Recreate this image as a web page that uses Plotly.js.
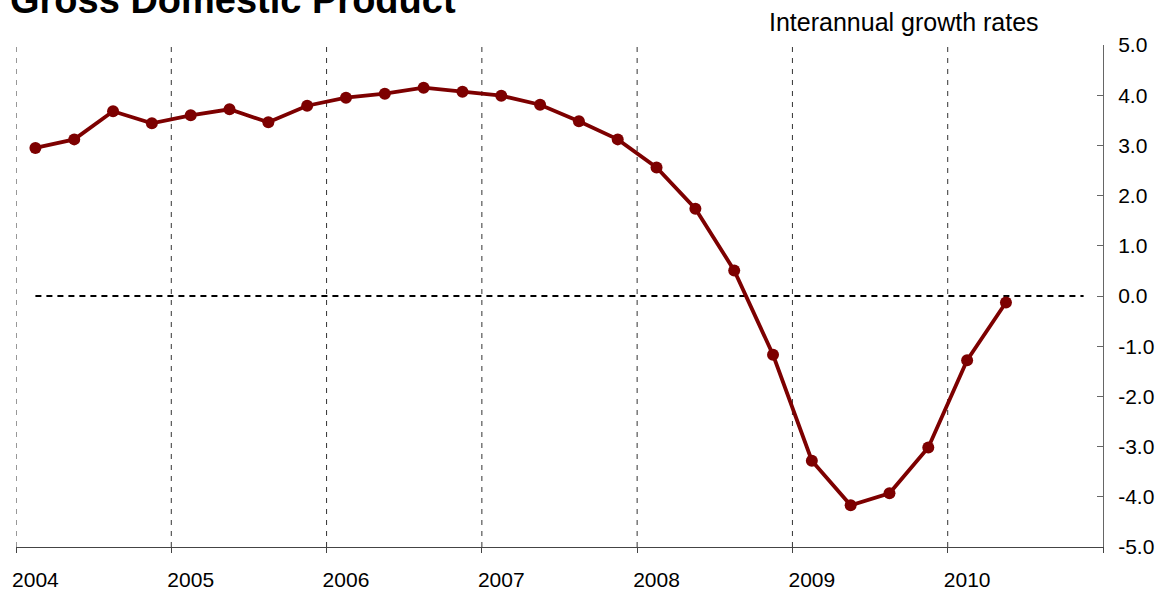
<!DOCTYPE html>
<html>
<head>
<meta charset="utf-8">
<script src="https://cdn.plot.ly/plotly-3.0.1.min.js"></script>
<style>html,body{margin:0;padding:0;background:#fff;}#chart{width:1164px;height:590px;}</style>
</head>
<body>
<div id="chart"></div>
<script>
// Quarterly GDP interannual growth rates (%)
const years = [2004, 2005, 2006, 2007, 2008, 2009, 2010];
const quarterOffsets = [0.125, 0.375, 0.625, 0.875];
const gdpGrowth = [
  2.95, 3.12, 3.68, 3.44,
  3.60, 3.72, 3.46, 3.79,
  3.95, 4.03, 4.15, 4.07,
  3.99, 3.81, 3.48, 3.12,
  2.56, 1.74, 0.51, -1.17,
  -3.28, -4.17, -3.93, -3.02,
  -1.28, -0.13
];
const yTicks = [5, 4, 3, 2, 1, 0, -1, -2, -3, -4, -5];

const xq = [];
years.forEach(y => quarterOffsets.forEach(q => xq.push(y + q)));
const xVals = xq.slice(0, gdpGrowth.length);

const boundaries = years.concat([years[years.length - 1] + 1]);

const shapes = years.map(y => ({
  type: 'line', xref: 'x', yref: 'paper', x0: y, x1: y, y0: 0, y1: 1,
  line: {color: '#333', width: 1, dash: '5px,6px'}, layer: 'below'
}));
shapes.push({
  type: 'line', xref: 'x', yref: 'y', x0: xq[0], x1: xq[xq.length - 1], y0: 0, y1: 0,
  line: {color: '#000', width: 2, dash: '6px,5px'}, layer: 'below'
});

const trace = {
  x: xVals, y: gdpGrowth, type: 'scatter', mode: 'lines+markers',
  line: {color: '#7d0000', width: 3.8},
  marker: {color: '#7d0000', size: 12},
  hoverinfo: 'skip', cliponaxis: false
};

const font = "'Liberation Sans', Arial, sans-serif";
const layout = {
  width: 1164, height: 590,
  margin: {l: 16, r: 61, t: 45, b: 43},
  paper_bgcolor: '#fff', plot_bgcolor: '#fff',
  showlegend: false,
  font: {family: font, color: '#000', size: 21},
  title: {
    text: '<b>Gross Domestic Product</b>',
    font: {family: font, size: 38, color: '#000'},
    x: 10 / 1164, xanchor: 'left', xref: 'container',
    y: 1.0, yanchor: 'middle', yref: 'container'
  },
  xaxis: {
    range: [boundaries[0], boundaries[boundaries.length - 1]],
    tickmode: 'array',
    tickvals: years.map(y => y + 0.125),
    ticktext: years.map(String),
    ticks: '', showgrid: false, zeroline: false,
    showline: true, linecolor: '#444', linewidth: 1,
    tickfont: {family: font, size: 21, color: '#000'},
    ticklabelstandoff: 14,
    minor: {tickmode: 'array', tickvals: boundaries, ticks: 'outside', ticklen: 5, tickcolor: '#444', tickwidth: 1, showgrid: false},
    fixedrange: true
  },
  yaxis: {
    side: 'right', range: [-5, 5],
    tickmode: 'array', tickvals: yTicks, ticktext: yTicks.map(v => v.toFixed(1)),
    ticks: 'inside', ticklen: 6, tickcolor: '#666', tickwidth: 1,
    showgrid: false, zeroline: false,
    showline: true, linecolor: '#666', linewidth: 1,
    tickfont: {family: font, size: 21, color: '#000'},
    ticklabelstandoff: 10,
    fixedrange: true
  },
  shapes: shapes,
  annotations: [{
    text: 'Interannual growth rates', xref: 'paper', yref: 'paper',
    x: (1041 - 16) / (1103 - 16), xanchor: 'right',
    y: 1, yanchor: 'bottom', yshift: 7, showarrow: false,
    font: {family: font, size: 25, color: '#000'}
  }]
};

Plotly.newPlot('chart', [trace], layout, {displayModeBar: false, staticPlot: true});
</script>
</body>
</html>
